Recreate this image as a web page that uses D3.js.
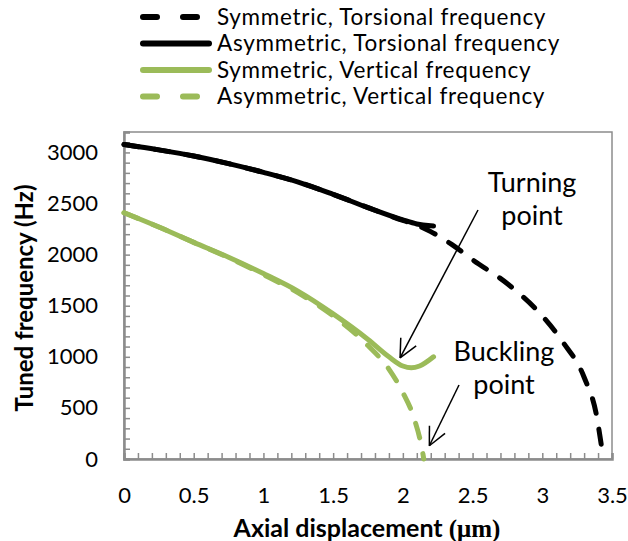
<!DOCTYPE html>
<html>
<head>
<meta charset="utf-8">
<title>Tuned frequency vs axial displacement</title>
<style>
  body { margin: 0; background: #fff; }
  svg { font-family: Lato, "Open Sans", sans-serif; }
</style>
</head>
<body>
<script src="https://cdnjs.cloudflare.com/ajax/libs/d3/7.8.5/d3.min.js"></script>
<script>
// values
const seriesNames = [
  "Symmetric, Torsional frequency",
  "Asymmetric, Torsional frequency",
  "Symmetric, Vertical frequency",
  "Asymmetric, Vertical frequency"
];

const xSymTor = [0, 0.25, 0.5, 0.75, 1.0, 1.25, 1.5, 1.75, 2.0, 2.1, 2.2, 2.35, 2.5, 2.75, 3.0, 3.15, 3.3, 3.39, 3.43, 3.44];
const fSymTor = [3078, 3025, 2965, 2890, 2805, 2710, 2590, 2460, 2335, 2290, 2225, 2100, 1950, 1715, 1400, 1140, 800, 420, 80, 0];

const xAsymTor = [0, 0.25, 0.5, 0.75, 1.0, 1.25, 1.5, 1.75, 2.0, 2.1, 2.2, 2.22];
const fAsymTor = [3078, 3025, 2965, 2890, 2805, 2710, 2590, 2460, 2340, 2300, 2282, 2280];

const xSymVert = [0, 0.25, 0.5, 0.75, 1.0, 1.25, 1.5, 1.75, 1.9, 2.0, 2.06, 2.12, 2.22];
const fSymVert = [2410, 2270, 2120, 1975, 1815, 1640, 1420, 1170, 1000, 910, 892, 910, 1000];

const xAsymVert = [0, 0.25, 0.5, 0.75, 1.0, 1.25, 1.5, 1.75, 1.9, 2.0, 2.08, 2.14, 2.15];
const fAsymVert = [2410, 2270, 2120, 1970, 1805, 1625, 1400, 1110, 880, 650, 400, 80, 0];

const xTicks = [0, 0.5, 1, 1.5, 2, 2.5, 3, 3.5];
const yTicks = [0, 500, 1000, 1500, 2000, 2500, 3000];

const width = 628, height = 541;
const plotLeft = 124, plotRight = 612, plotTop = 132, plotBottom = 459;

const svg = d3.select("body").append("svg")
  .attr("width", width)
  .attr("height", height);

const x = d3.scaleLinear().domain([0, 3.5]).range([plotLeft, plotRight]);
const y = d3.scaleLinear().domain([0, 3200]).range([plotBottom, plotTop]);

// plot frame
svg.append("rect")
  .attr("x", plotLeft).attr("y", plotTop)
  .attr("width", plotRight - plotLeft).attr("height", plotBottom - plotTop)
  .attr("fill", "none").attr("stroke", "#8c8c8c").attr("stroke-width", 1.5);

// minor ticks, pointing inside
const xMinor = d3.range(0, 36).map(i => i / 10);
const yMinor = d3.range(0, 33).map(i => i * 100);

svg.append("g")
  .attr("transform", `translate(0,${plotBottom})`)
  .call(d3.axisTop(x).tickValues(xMinor).tickSize(6).tickFormat(""))
  .call(g => g.selectAll("line").attr("stroke", "#8c8c8c").attr("stroke-width", 1.5))
  .call(g => g.select(".domain").attr("stroke", "#8c8c8c").attr("stroke-width", 2.5));

svg.append("g")
  .attr("transform", `translate(${plotLeft},0)`)
  .call(d3.axisRight(y).tickValues(yMinor).tickSize(6).tickFormat(""))
  .call(g => g.selectAll("line").attr("stroke", "#8c8c8c").attr("stroke-width", 1.5))
  .call(g => g.select(".domain").attr("stroke", "#8c8c8c").attr("stroke-width", 2.5));

// tick labels
svg.append("g")
  .attr("transform", `translate(0,${plotBottom})`)
  .call(d3.axisBottom(x).tickValues(xTicks).tickSize(0).tickPadding(28).tickFormat(d3.format("")))
  .call(g => g.select(".domain").remove())
  .call(g => g.selectAll("text").attr("font-size", 22).attr("fill", "#000")
    .attr("font-family", "Lato, sans-serif"));

svg.append("g")
  .attr("transform", `translate(${plotLeft},0)`)
  .call(d3.axisLeft(y).tickValues(yTicks).tickSize(0).tickPadding(26).tickFormat(d3.format("")))
  .call(g => g.select(".domain").remove())
  .call(g => g.selectAll("text").attr("font-size", 22).attr("fill", "#000")
    .attr("font-family", "Lato, sans-serif"));

// axis titles
const xTitle = svg.append("text")
  .attr("x", 367).attr("y", 537)
  .attr("text-anchor", "middle")
  .attr("font-size", 25).attr("font-weight", "bold");
xTitle.append("tspan").text("Axial displacement ");
xTitle.append("tspan").attr("font-family", "Liberation Serif, serif").text("(μm)");

svg.append("text")
  .attr("transform", "translate(33,298) rotate(-90)")
  .attr("text-anchor", "middle")
  .attr("font-size", 24).attr("font-weight", "bold")
  .text("Tuned frequency (Hz)");

// series
const line = d3.line().x(d => x(d[0])).y(d => y(d[1])).curve(d3.curveMonotoneX);
const zip = (xs, ys) => xs.map((v, i) => [v, ys[i]]);

const series = [
  { pts: zip(xSymTor, fSymTor), color: "#000", dash: "15,16" },
  { pts: zip(xAsymTor, fAsymTor), color: "#000", dash: null },
  { pts: zip(xSymVert, fSymVert), color: "#9bbb59", dash: null },
  { pts: zip(xAsymVert, fAsymVert), color: "#9bbb59", dash: "15,16" }
];

series.forEach(s => {
  svg.append("path")
    .attr("d", line(s.pts))
    .attr("fill", "none")
    .attr("stroke", s.color)
    .attr("stroke-width", 5)
    .attr("stroke-linecap", "round")
    .attr("stroke-dasharray", s.dash);
});

// legend
const legendY = [17, 43.5, 70, 96.5];
seriesNames.forEach((name, i) => {
  const s = series[i];
  const g = svg.append("g").attr("transform", `translate(0,${legendY[i]})`);
  g.append("line")
    .attr("x1", 143).attr("x2", s.dash ? 199 : 209)
    .attr("stroke", s.color).attr("stroke-width", 6)
    .attr("stroke-linecap", "round")
    .attr("stroke-dasharray", s.dash ? "14,26" : null);
  g.append("text")
    .attr("x", 217).attr("dy", "0.35em")
    .attr("font-size", 22.5).attr("letter-spacing", 0.7)
    .text(name);
});

// annotations
function arrow(x1, y1, x2, y2) {
  const a = Math.atan2(y2 - y1, x2 - x1);
  const L = 20, w = 0.45;
  svg.append("line")
    .attr("x1", x1).attr("y1", y1).attr("x2", x2).attr("y2", y2)
    .attr("stroke", "#000").attr("stroke-width", 1.5);
  [a + Math.PI - w, a + Math.PI + w].forEach(b => {
    svg.append("line")
      .attr("x1", x2).attr("y1", y2)
      .attr("x2", x2 + L * Math.cos(b)).attr("y2", y2 + L * Math.sin(b))
      .attr("stroke", "#000").attr("stroke-width", 1.5);
  });
}

const notes = [
  { lines: ["Turning", "point"], cx: 532, cy: 183, from: [478, 210], to: [x(1.98), y(990)] },
  { lines: ["Buckling", "point"], cx: 504, cy: 352, from: [459, 385], to: [x(2.19), y(130)] }
];

notes.forEach(n => {
  n.lines.forEach((t, i) => {
    svg.append("text")
      .attr("x", n.cx).attr("y", n.cy + i * 33).attr("dy", "0.35em")
      .attr("text-anchor", "middle").attr("font-size", 27)
      .text(t);
  });
  arrow(n.from[0], n.from[1], n.to[0], n.to[1]);
});
</script>
</body>
</html>
